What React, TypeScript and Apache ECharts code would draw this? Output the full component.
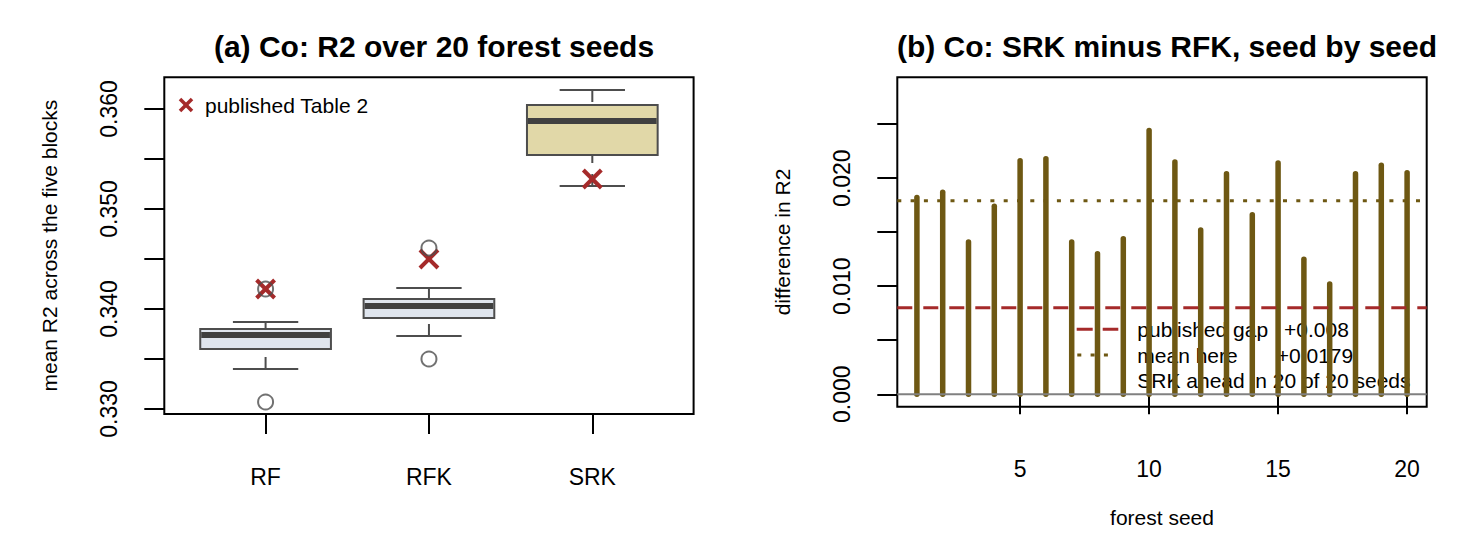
import React, { useEffect, useRef } from "react";
import * as echarts from "echarts";

// panel (a): five-block mean R2 over 20 forest seeds
const methods = ["RF", "RFK", "SRK"];
const whiskerLow = [0.334, 0.3373, 0.3523];
const quart1 = [0.336, 0.3391, 0.3554];
const medians = [0.3374, 0.3403, 0.3588];
const quart3 = [0.338, 0.341, 0.3604];
const whiskerHigh = [0.3387, 0.3421, 0.3619];
const outliers = [[0.3307, 0.342], [0.335, 0.3461], []];
const publishedR2 = [0.342, 0.345, 0.353];
const r2Ticks = [0.33, 0.335, 0.34, 0.345, 0.35, 0.355, 0.36];
const r2Labels = [0.33, 0.34, 0.35, 0.36];

// panel (b): SRK minus RFK per seed
const seeds = [1, 2, 3, 4, 5, 6, 7, 8, 9, 10, 11, 12, 13, 14, 15, 16, 17, 18, 19, 20];
const gapBySeed = [
  0.0182, 0.0187, 0.0141, 0.0174, 0.0216, 0.0218, 0.0141, 0.013, 0.0144, 0.0244,
  0.0215, 0.0152, 0.0204, 0.0166, 0.0214, 0.0125, 0.0102, 0.0204, 0.0212, 0.0205,
];
const publishedGap = 0.008;
const meanGap = 0.0179;
const seedTicks = [5, 10, 15, 20];
const gapTicks = [0, 0.005, 0.01, 0.015, 0.02, 0.025];
const gapLabels = [0, 0.01, 0.02];

const FONT = "'Liberation Sans', Arial, Helvetica, sans-serif";
const RED = "#a52a2a";
const OLIVE = "#6e5813";
const BOX_LINE = "#4d4d4d";
const boxFills = ["#dfe5ee", "#dfe5ee", "#e1d8a8"];
const refLineStyles = [
  { stroke: "#808080", lineWidth: 2 },
  { stroke: RED, lineWidth: 3, lineDash: [15, 11] },
  { stroke: OLIVE, lineWidth: 3, lineDash: [4, 9.3] },
];

const tickStyle = { length: 20, lineStyle: { color: "#000", width: 2 } };
const labelStyle = { color: "#000", fontSize: 23, fontFamily: FONT };
const nameStyle = { color: "#000", fontSize: 21, fontFamily: FONT };
const titleStyle = { color: "#000", fontSize: 30, fontWeight: "bold", fontFamily: FONT };

function seg(x1: number, y1: number, x2: number, y2: number, style: any) {
  return { type: "line", shape: { x1, y1, x2, y2 }, style };
}

function cross(cx: number, cy: number, half: number, width: number) {
  const style = { stroke: RED, lineWidth: width };
  return [
    seg(cx - half, cy - half, cx + half, cy + half, style),
    seg(cx - half, cy + half, cx + half, cy - half, style),
  ];
}

export default function App() {
  const chartRef = useRef<HTMLDivElement>(null);

  useEffect(() => {
    if (!chartRef.current) return;
    document.body.style.margin = "0";
    const chart = echarts.init(chartRef.current, null, { renderer: "svg" });

    const boxData = methods.map((_, i) => [i + 1, whiskerLow[i], quart1[i], medians[i], quart3[i], whiskerHigh[i]]);
    const outlierData: number[][] = [];
    outliers.forEach((vals, i) => vals.forEach((v) => outlierData.push([i + 1, v])));
    const publishedData = publishedR2.map((v, i) => [i + 1, v]);
    const gapData = seeds.map((s, i) => [s, gapBySeed[i]]);
    const refData = [publishedGap, meanGap].reduce((acc, v) => acc.concat([[seeds[0], v]]), [[seeds[0], 0]]);
    const ahead = gapBySeed.filter((g) => g > 0).length;

    chart.setOption({
      animation: false,
      backgroundColor: "#fff",
      title: [
        { text: "(a) Co: R2 over 20 forest seeds", left: 429, top: 26, textAlign: "center", textStyle: titleStyle },
        { text: "(b) Co: SRK minus RFK, seed by seed", left: 1162, top: 26, textAlign: "center", textStyle: titleStyle },
      ],
      grid: [
        { left: 164.3, right: 772.4, top: 77.3, bottom: 126, show: true, borderColor: "#000", borderWidth: 2, backgroundColor: "transparent" },
        { left: 897.3, right: 39.3, top: 77.3, bottom: 133.3, show: true, borderColor: "#000", borderWidth: 2, backgroundColor: "transparent" },
      ],
      xAxis: [
        {
          gridIndex: 0,
          type: "value",
          min: 0.38,
          max: 3.62,
          axisLine: { show: false },
          splitLine: { show: false },
          axisTick: { ...tickStyle, customValues: methods.map((_, i) => i + 1) },
          axisLabel: {
            ...labelStyle,
            margin: 51,
            customValues: methods.map((_, i) => i + 1),
            formatter: (v: number) => methods[Math.round(v) - 1] ?? "",
          },
        },
        {
          gridIndex: 1,
          type: "value",
          min: 0.24,
          max: 20.76,
          axisLine: { show: false },
          splitLine: { show: false },
          axisTick: { ...tickStyle, customValues: seedTicks },
          axisLabel: { ...labelStyle, margin: 51, customValues: seedTicks },
          name: "forest seed",
          nameLocation: "middle",
          nameGap: 100,
          nameTextStyle: nameStyle,
        },
      ],
      yAxis: [
        {
          gridIndex: 0,
          type: "value",
          min: 0.3295,
          max: 0.36317,
          axisLine: { show: false },
          splitLine: { show: false },
          axisTick: { ...tickStyle, customValues: r2Ticks },
          axisLabel: { ...labelStyle, rotate: 90, margin: 44, customValues: r2Labels, formatter: (v: number) => v.toFixed(3) },
          name: "mean R2 across the five blocks",
          nameLocation: "middle",
          nameGap: 104,
          nameRotate: 90,
          nameTextStyle: nameStyle,
        },
        {
          gridIndex: 1,
          type: "value",
          min: -0.00115,
          max: 0.02933,
          axisLine: { show: false },
          splitLine: { show: false },
          axisTick: { ...tickStyle, customValues: gapTicks },
          axisLabel: { ...labelStyle, rotate: 90, margin: 44, customValues: gapLabels, formatter: (v: number) => v.toFixed(3) },
          name: "difference in R2",
          nameLocation: "middle",
          nameGap: 104,
          nameRotate: 90,
          nameTextStyle: nameStyle,
        },
      ],
      series: [
        {
          type: "custom",
          name: "boxes",
          xAxisIndex: 0,
          yAxisIndex: 0,
          encode: { x: 0, y: [1, 2, 3, 4, 5] },
          data: boxData,
          renderItem: (params: any, api: any) => {
            const x = api.value(0);
            const lo = api.coord([x, api.value(1)]);
            const b1 = api.coord([x, api.value(2)]);
            const md = api.coord([x, api.value(3)]);
            const b3 = api.coord([x, api.value(4)]);
            const hi = api.coord([x, api.value(5)]);
            const w = api.size([0.8, 0])[0];
            const cap = w / 4;
            const cx = lo[0];
            const whisk = { stroke: BOX_LINE, lineWidth: 2, lineDash: [12, 11] };
            const solid = { stroke: BOX_LINE, lineWidth: 2 };
            return {
              type: "group",
              children: [
                seg(cx, lo[1], cx, b1[1], whisk),
                seg(cx, hi[1], cx, b3[1], whisk),
                seg(cx - cap, lo[1], cx + cap, lo[1], solid),
                seg(cx - cap, hi[1], cx + cap, hi[1], solid),
                {
                  type: "rect",
                  shape: { x: cx - w / 2, y: b3[1], width: w, height: b1[1] - b3[1] },
                  style: { fill: boxFills[params.dataIndex], stroke: BOX_LINE, lineWidth: 2 },
                },
                seg(cx - w / 2 + 1, md[1], cx + w / 2 - 1, md[1], { stroke: "#404040", lineWidth: 6 }),
              ],
            };
          },
        },
        {
          type: "scatter",
          name: "outliers",
          xAxisIndex: 0,
          yAxisIndex: 0,
          data: outlierData,
          symbol: "circle",
          symbolSize: 15,
          itemStyle: { color: "transparent", borderColor: BOX_LINE, borderWidth: 2 },
        },
        {
          type: "custom",
          name: "published Table 2",
          xAxisIndex: 0,
          yAxisIndex: 0,
          encode: { x: 0, y: 1 },
          data: publishedData,
          renderItem: (params: any, api: any) => {
            const p = api.coord([api.value(0), api.value(1)]);
            return { type: "group", children: cross(p[0], p[1], 9, 4) };
          },
        },
        {
          type: "custom",
          name: "gap",
          xAxisIndex: 1,
          yAxisIndex: 1,
          encode: { x: 0, y: 1 },
          data: gapData,
          renderItem: (params: any, api: any) => {
            const base = api.coord([api.value(0), 0]);
            const top = api.coord([api.value(0), api.value(1)]);
            return seg(base[0], base[1], top[0], top[1], { stroke: OLIVE, lineWidth: 5.5, lineCap: "round" });
          },
        },
        {
          type: "custom",
          name: "reference lines",
          xAxisIndex: 1,
          yAxisIndex: 1,
          encode: { x: 0, y: 1 },
          data: refData,
          renderItem: (params: any, api: any) => {
            const y = api.coord([api.value(0), api.value(1)])[1];
            const cs = params.coordSys;
            return seg(cs.x, y, cs.x + cs.width, y, refLineStyles[params.dataIndex]);
          },
        },
      ],
      graphic: [
        {
          type: "group",
          z: 100,
          children: [
            ...cross(186, 105, 6, 3.5),
            {
              type: "text",
              x: 205,
              y: 105.4,
              style: { text: "published Table 2", fontSize: 21, fontFamily: FONT, fill: "#000", verticalAlign: "middle" },
            },
          ],
        },
        {
          type: "group",
          z: 100,
          children: [
            seg(1076.7, 329.3, 1118.3, 329.3, { stroke: RED, lineWidth: 3, lineDash: [16, 10] }),
            seg(1077.3, 355, 1110, 355, { stroke: OLIVE, lineWidth: 3, lineDash: [4, 9.3] }),
            {
              type: "text",
              x: 1137.3,
              y: 329.3,
              style: { text: "published gap", fontSize: 21, fontFamily: FONT, fill: "#000", verticalAlign: "middle" },
            },
            {
              type: "text",
              x: 1284,
              y: 329.3,
              style: { text: "+" + publishedGap.toFixed(3), fontSize: 21, fontFamily: FONT, fill: "#000", verticalAlign: "middle" },
            },
            {
              type: "text",
              x: 1137.3,
              y: 355,
              style: { text: "mean here", fontSize: 21, fontFamily: FONT, fill: "#000", verticalAlign: "middle" },
            },
            {
              type: "text",
              x: 1276.7,
              y: 355,
              style: { text: "+" + meanGap.toFixed(4), fontSize: 21, fontFamily: FONT, fill: "#000", verticalAlign: "middle" },
            },
            {
              type: "text",
              x: 1137.3,
              y: 380.3,
              style: {
                text: `SRK ahead in ${ahead} of ${seeds.length} seeds`,
                fontSize: 21,
                fontFamily: FONT,
                fill: "#000",
                verticalAlign: "middle",
              },
            },
          ],
        },
      ],
    });

    const handleResize = () => chart.resize();
    window.addEventListener("resize", handleResize);
    return () => {
      window.removeEventListener("resize", handleResize);
      chart.dispose();
    };
  }, []);

  return <div ref={chartRef} style={{ width: 1466, height: 540, background: "#fff" }} />;
}
